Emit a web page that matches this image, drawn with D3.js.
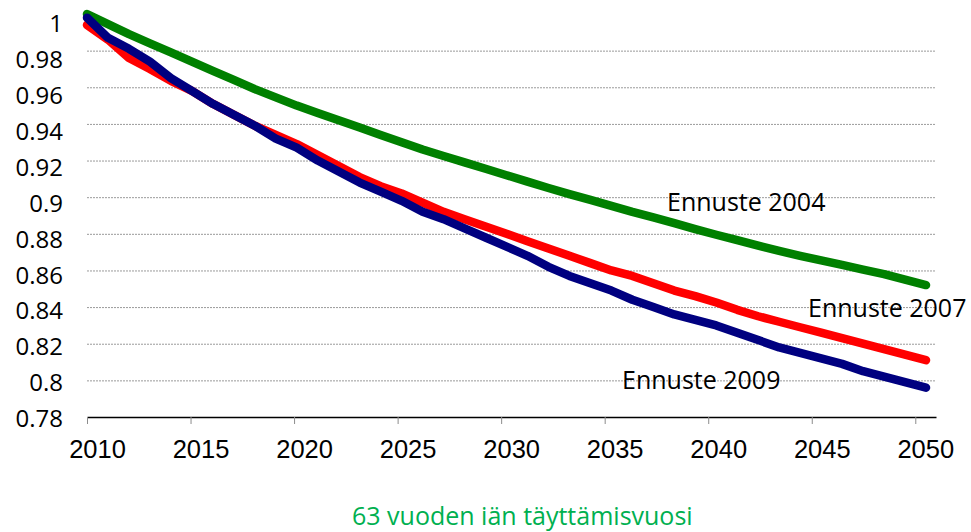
<!DOCTYPE html>
<html>
<head>
<meta charset="utf-8">
<script src="https://cdn.jsdelivr.net/npm/d3@7"></script>
<style>
  body { margin: 0; background: #fff; }
  svg { display: block; }
  .axis text { fill: #000; }
</style>
</head>
<body>
<svg width="971" height="532"></svg>
<script>
// categories
const years = [2010, 2011, 2012, 2013, 2014, 2015, 2016, 2017, 2018, 2019,
               2020, 2021, 2022, 2023, 2024, 2025, 2026, 2027, 2028, 2029,
               2030, 2031, 2032, 2033, 2034, 2035, 2036, 2037, 2038, 2039,
               2040, 2041, 2042, 2043, 2044, 2045, 2046, 2047, 2048, 2049, 2050];

// series values
const ennuste2004 = [1.000, 0.9945, 0.989, 0.984, 0.979, 0.974, 0.969, 0.964, 0.959, 0.9545,
                     0.950, 0.946, 0.942, 0.938, 0.934, 0.930, 0.926, 0.9225, 0.919, 0.9155,
                     0.912, 0.9085, 0.905, 0.9017, 0.8985, 0.8953, 0.892, 0.889, 0.8858, 0.8826,
                     0.8795, 0.8765, 0.8735, 0.8707, 0.868, 0.8655, 0.863, 0.8605, 0.858, 0.855, 0.852];
const ennuste2007 = [0.994, 0.986, 0.976, 0.970, 0.9635, 0.958, 0.951, 0.945, 0.939, 0.934,
                     0.929, 0.923, 0.917, 0.911, 0.906, 0.902, 0.897, 0.892, 0.888, 0.884,
                     0.880, 0.876, 0.872, 0.868, 0.864, 0.860, 0.857, 0.853, 0.849, 0.846,
                     0.8425, 0.8385, 0.835, 0.832, 0.829, 0.826, 0.823, 0.820, 0.817, 0.814, 0.811];
const ennuste2009 = [0.998, 0.987, 0.981, 0.974, 0.965, 0.958, 0.951, 0.945, 0.939, 0.932,
                     0.927, 0.920, 0.914, 0.908, 0.903, 0.898, 0.892, 0.888, 0.883, 0.878,
                     0.873, 0.868, 0.862, 0.857, 0.853, 0.849, 0.844, 0.840, 0.836, 0.833,
                     0.830, 0.826, 0.822, 0.818, 0.815, 0.812, 0.809, 0.805, 0.802, 0.799, 0.796];

// ticks
const xTicks = [2010, 2015, 2020, 2025, 2030, 2035, 2040, 2045, 2050];
const yTicks = [0.78, 0.8, 0.82, 0.84, 0.86, 0.88, 0.9, 0.92, 0.94, 0.96, 0.98, 1];
const gridTicks = [0.8, 0.82, 0.84, 0.86, 0.88, 0.9, 0.92, 0.94, 0.96, 0.98];

const seriesNames = ['Ennuste 2004', 'Ennuste 2007', 'Ennuste 2009'];
const xTitle = '63 vuoden iän täyttämisvuosi';

const plotLeft = 87;
const plotRight = 936;
const lineRight = 926;
const plotTop = 14;
const plotBottom = 417;
const seriesColors = ['#008000', '#ff0000', '#000080'];
const labelFont = '"Open Sans", sans-serif';

function renderChart(){
  var svg = d3.select("svg");

  // category axis runs one slot past 2050, the lines stop in the middle of it
  var xAxisScale = d3.scaleLinear().domain([2010, 2051]).range([plotLeft, plotRight]);
  var xLine = d3.scaleLinear().domain([2010, 2050]).range([plotLeft, lineRight]);
  var y = d3.scaleLinear().domain([0.78, 1]).range([plotBottom, plotTop]);
  // value labels sit a bit lower than their gridlines in the original
  var yLabel = d3.scaleLinear().domain([0.78, 1]).range([418, 23]);

  renderGrid(svg, y);
  renderYAxis(svg, yLabel);
  renderXAxis(svg, xAxisScale);

  var series = [ennuste2004, ennuste2007, ennuste2009];
  var line = d3.line()
               .x(function(d, i){ return xLine(years[i]); })
               .y(function(d){ return y(d); });

  svg.append("g").attr("class", "lines")
     .selectAll("path")
     .data(series)
     .enter().append("path")
       .attr("d", line)
       .attr("fill", "none")
       .attr("stroke", function(d, i){ return seriesColors[i]; })
       .attr("stroke-width", 8.5)
       .attr("stroke-linecap", "round")
       .attr("stroke-linejoin", "round");

  renderLabels(svg);
}

function renderGrid(svg, y){
  var grid = d3.axisLeft(y)
               .tickValues(gridTicks)
               .tickSize(-(plotRight - plotLeft))
               .tickFormat("");
  var g = svg.append("g")
             .attr("class", "grid")
             .attr("transform", "translate(" + plotLeft + ",0)")
             .call(grid);
  g.select(".domain").remove();
  g.selectAll(".tick line")
   .attr("stroke", "#9a9a9a")
   .attr("stroke-width", 1)
   .attr("stroke-dasharray", "2,1");
}

function renderYAxis(svg, yLabel){
  var yAxis = d3.axisLeft(yLabel)
                .tickValues(yTicks)
                .tickSize(0)
                .tickPadding(0)
                .tickFormat(function(d){ return String(+d.toFixed(2)); });
  var g = svg.append("g")
             .attr("class", "axis y-axis")
             .attr("transform", "translate(63,0)")
             .call(yAxis);
  g.select(".domain").remove();
  g.selectAll(".tick text")
   .attr("font-family", labelFont)
   .attr("font-size", 24)
   .attr("dy", "0.36em");
}

function renderXAxis(svg, xAxisScale){
  var xAxis = d3.axisBottom(xAxisScale)
                .tickValues(xTicks)
                .tickSize(7)
                .tickSizeOuter(0)
                .tickFormat(d3.format("d"));
  var g = svg.append("g")
             .attr("class", "axis x-axis")
             .attr("transform", "translate(0," + plotBottom + ")")
             .call(xAxis);
  g.select(".domain").attr("stroke", "#000").attr("stroke-width", 1.3);
  g.selectAll(".tick line").attr("stroke", "#8c8c8c");
  g.selectAll(".tick text")
   .attr("font-family", '"Liberation Sans", Arial, sans-serif')
   .attr("font-size", 25.5)
   .attr("y", 41)
   .attr("dy", 0)
   .attr("dx", 10);
}

function renderLabels(svg){
  const labelPos = [[667, 211], [808, 317], [622, 389]];
  svg.append("g").attr("class", "series-labels")
     .selectAll("text")
     .data(seriesNames)
     .enter().append("text")
       .attr("x", function(d, i){ return labelPos[i][0]; })
       .attr("y", function(d, i){ return labelPos[i][1]; })
       .attr("font-family", labelFont)
       .attr("font-size", 25)
       .attr("fill", "#000")
       .text(function(d){ return d; });

  svg.append("text")
     .attr("class", "x-title")
     .attr("x", 352)
     .attr("y", 525)
     .attr("font-family", labelFont)
     .attr("font-size", 25)
     .attr("fill", "#00b050")
     .text(xTitle);
}

renderChart();
</script>
</body>
</html>
